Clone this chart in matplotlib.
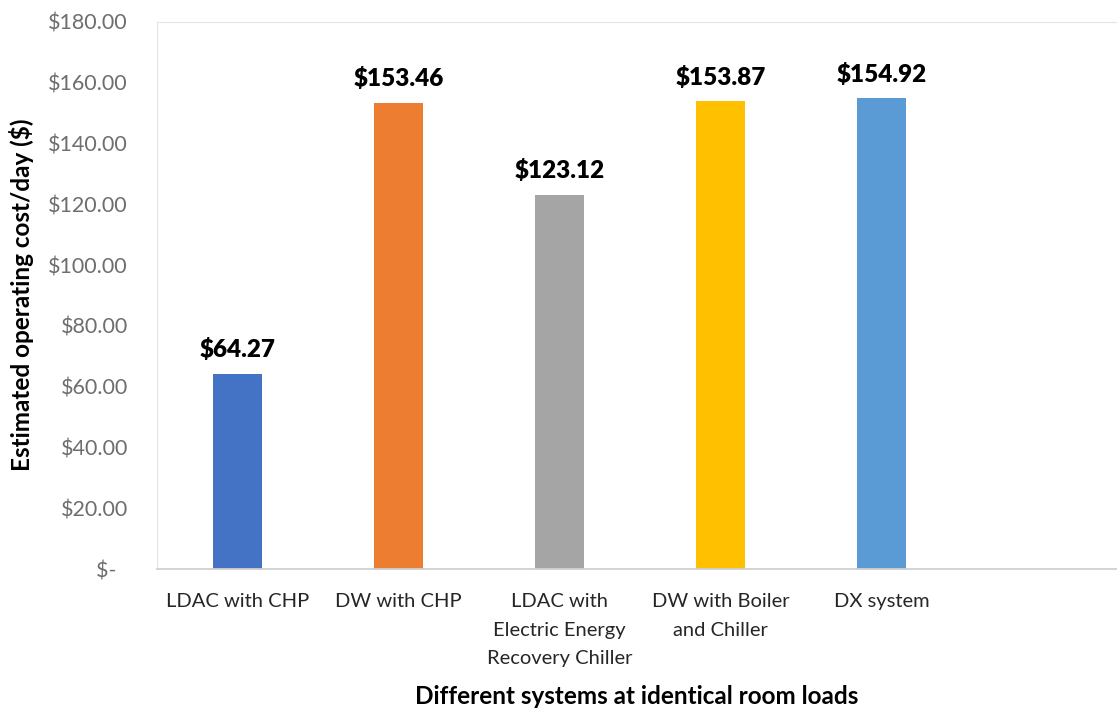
import matplotlib.pyplot as plt
import numpy as np

# Data
systems = ['LDAC with CHP', 'DW with CHP', 'LDAC with\nElectric Energy\nRecovery Chiller',
           'DW with Boiler\nand Chiller', 'DX system']
costs = [64.27, 153.46, 123.12, 153.87, 154.92]
colors = ['#4472C4', '#ED7D31', '#A5A5A5', '#FFC000', '#5B9BD5']
yticks = [0, 20, 40, 60, 80, 100, 120, 140, 160, 180]
ytick_labels = ['$-  '] + ['$%.2f' % v for v in yticks[1:]]

plt.rcParams['font.family'] = ['Lato', 'DejaVu Sans']

fig = plt.figure(figsize=(11.17, 7.11), dpi=100)
ax = fig.add_axes([157 / 1117, (711 - 569) / 711, (1117 - 157) / 1117, (569 - 22) / 711])

x = np.arange(len(systems))
bars = ax.bar(x, costs, width=0.31, color=colors)

for xi, v in zip(x, costs):
    ax.annotate('$%.2f' % v, (xi, v), xytext=(0, 9), textcoords='offset points',
                ha='center', va='bottom', fontsize=17.5, fontweight='heavy', color='black')

ax.set_xlim(-0.5, -0.5 + (1117 - 157) / 161)
ax.set_ylim(0, 180)
ax.set_yticks(yticks)
ax.set_yticklabels(ytick_labels)
ax.set_xticks(x)
ax.set_xticklabels(systems, linespacing=1.85)
ax.tick_params(axis='both', length=0, labelsize=15.5, labelcolor='#6E6E6E')
ax.tick_params(axis='y', pad=21)
ax.tick_params(axis='x', pad=17, labelsize=14.5, labelcolor='#262626')

for s in ['top', 'left']:
    ax.spines[s].set_color('#E3E3E3')
ax.spines['bottom'].set_color('#D0D0D0')
ax.spines['bottom'].set_linewidth(1.3)
ax.spines['right'].set_visible(False)

fig.text(22 / 1117, 1 - 295 / 711, 'Estimated operating cost/day ($)', rotation=90,
         ha='center', va='center', fontsize=17.5, fontweight='bold')
fig.text(637 / 1117, 1 - 697 / 711, 'Different systems at identical room loads',
         ha='center', va='center', fontsize=17.5, fontweight='bold')

fig.savefig('out.png', dpi=100)
